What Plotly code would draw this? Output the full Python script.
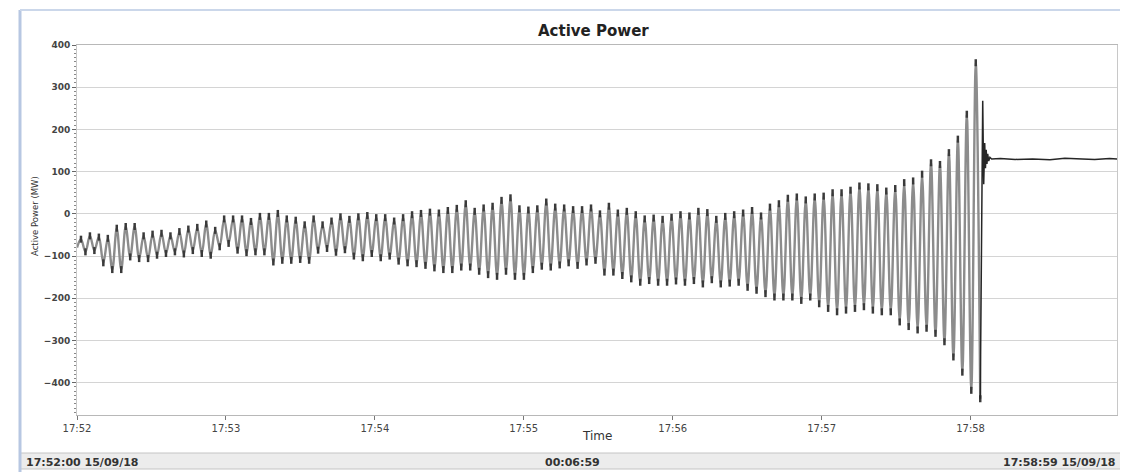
import plotly.graph_objects as go
from datetime import datetime, timedelta

# ---------------- data ----------------
BASE_TIME = "2018-09-15 17:52:00"
END_TIME = "2018-09-15 17:58:59"
TICK_TIMES = ["2018-09-15 17:52:00", "2018-09-15 17:53:00", "2018-09-15 17:54:00",
              "2018-09-15 17:55:00", "2018-09-15 17:56:00", "2018-09-15 17:57:00",
              "2018-09-15 17:58:00"]
TICK_LABELS = ["17:52", "17:53", "17:54", "17:55", "17:56", "17:57", "17:58"]
Y_TICKS = [-400, -300, -200, -100, 0, 100, 200, 300, 400]

START_VALUE = -80          # MW at 17:52:00
FIRST_PEAK_S = 1.6         # seconds after start of first peak
PERIOD_S = 3.605           # oscillation period (s)

# oscillation maxima (MW), one per cycle
PEAKS = [
    -60, -52, -55, -58, -34, -30, -30, -52, -48, -46, -52, -42, -36, -32,
    -24, -39, -12, -12, -12, -18, -6, -6, 1, -12, -15, -26, -12, -26,
    -17, -7, -13, -7, -4, -9, -9, -17, -9, -2, 1, 4, 2, 8,
    13, 24, 6, 14, 18, 32, 38, 12, 9, 12, 28, 16, 14,
    10, 10, 14, 0, 18, 2, 6, -2, -12, -10, -13, -8, -2, -5,
    6, 3, -13, -6, -2, 2, 8, -5, 16, 24, 37, 40, 33, 40,
    42, 50, 50, 56, 66, 64, 62, 54, 60, 74, 78, 94, 121, 117,
    145, 177, 236, 358,
]
# oscillation minima (MW), one per cycle
TROUGHS = [
    -90, -87, -116, -132, -132, -102, -106, -106, -98, -94, -90, -95, -87, -94,
    -98, -78, -70, -86, -92, -90, -90, -114, -110, -110, -108, -110, -86, -82,
    -91, -85, -100, -104, -94, -104, -100, -112, -116, -118, -122, -128, -132, -132,
    -126, -126, -136, -144, -148, -136, -148, -148, -132, -124, -126, -121, -116,
    -122, -114, -110, -138, -138, -146, -154, -162, -158, -162, -162, -159, -162, -158,
    -166, -156, -166, -164, -162, -174, -181, -189, -197, -197, -197, -205, -197, -213,
    -224, -232, -228, -224, -220, -228, -232, -232, -256, -267, -275, -271, -283, -303,
    -339, -375, -418, -438,
]
# post-trip transient and steady state (seconds after start, MW)
TAIL_S = [364.9, 365.3, 365.7, 366.0, 366.3, 366.6, 366.9, 367.3, 367.8, 368.5,
          372, 378, 385, 392, 398, 405, 410, 416, 419]
TAIL_VALUES = [268, 70, 168, 108, 152, 118, 142, 125, 134, 130,
               131, 129, 130, 128, 132, 130, 129, 131, 130]

# ---------------- build ----------------
t0 = datetime.strptime(BASE_TIME, "%Y-%m-%d %H:%M:%S")
osc_t = [t0]
osc_v = [START_VALUE]
ext_t, ext_v = [], []
for i, (p, q) in enumerate(zip(PEAKS, TROUGHS)):
    tp = t0 + timedelta(seconds=FIRST_PEAK_S + i * PERIOD_S)
    tq = t0 + timedelta(seconds=FIRST_PEAK_S + i * PERIOD_S + PERIOD_S / 2)
    osc_t += [tp, tq]
    osc_v += [p, q]
    ext_t += [tp, tq]
    ext_v += [p, q]

tail_t = [osc_t[-1]] + [t0 + timedelta(seconds=s) for s in TAIL_S]
tail_v = [osc_v[-1]] + TAIL_VALUES

fig = go.Figure()
fig.add_trace(go.Scatter(x=osc_t, y=osc_v, mode="lines",
                         line=dict(color="#8c8c8c", width=2.4, shape="spline", smoothing=1.0),
                         hoverinfo="skip"))
fig.add_trace(go.Scatter(x=ext_t, y=ext_v, mode="markers",
                         marker=dict(symbol="line-ns-open", size=5, color="#3a3a3a",
                                     line=dict(color="#3a3a3a", width=2.5)),
                         hoverinfo="skip"))
fig.add_trace(go.Scatter(x=tail_t, y=tail_v, mode="lines",
                         line=dict(color="#262626", width=1.5), hoverinfo="skip"))

FONT = "DejaVu Sans"
OFF = 8                      # browser body margin
W, H = 1128 - OFF, 472 - OFF
# plot area in page pixels: x 77..1117, y 45..415
L, T = 77 - OFF, 45 - OFF
R = W - (1117 - OFF)
B = H - (415 - OFF)
PW, PH = W - L - R, H - T - B


def px(X):
    return (X - 77) / PW


def py(Y):
    return (415 - Y) / PH


fig.update_layout(
    width=W, height=H,
    margin=dict(l=L, r=R, t=T, b=B),
    paper_bgcolor="white", plot_bgcolor="white",
    showlegend=False,
    font=dict(family=FONT, color="#333"),
)
fig.update_xaxes(
    type="date", range=[BASE_TIME, END_TIME],
    tickvals=TICK_TIMES, ticktext=TICK_LABELS,
    tickfont=dict(size=10, color="#444", family=FONT),
    ticks="outside", ticklen=4, tickcolor="#777",
    showgrid=False, zeroline=False,
    showline=True, linecolor="#b8b8b8", linewidth=1, mirror=True,
)
fig.update_yaxes(
    range=[-476.5, 400],
    tickvals=Y_TICKS,
    tickfont=dict(size=9, color="#444", family=FONT, weight="bold"),
    ticks="outside", ticklen=4, tickcolor="#666",
    minor=dict(dtick=10, ticklen=2, ticks="outside", tickcolor="#888", showgrid=False),
    showgrid=True, gridcolor="#d4d4d4", gridwidth=1, zeroline=False,
    showline=True, linecolor="#c8c8c8", linewidth=1, mirror=True,
)

shapes = [
    # status bar
    dict(type="rect", xref="paper", yref="paper", x0=px(20), x1=px(1128),
         y0=py(453), y1=py(469), fillcolor="#ececec",
         line=dict(color="#c4c4c4", width=1), layer="below"),
    # panel borders
    dict(type="line", xref="paper", yref="paper", x0=px(20), x1=px(20),
         y0=py(10), y1=py(472), line=dict(color="#b7c7e2", width=3)),
    dict(type="line", xref="paper", yref="paper", x0=px(20), x1=px(1128),
         y0=py(10), y1=py(10), line=dict(color="#cbd7ea", width=2)),
]
fig.update_layout(shapes=shapes)

ann = [
    dict(text="<b>Active Power</b>", x=px(593), y=py(31), xref="paper", yref="paper",
         showarrow=False, font=dict(size=15, color="#222", family=FONT),
         xanchor="center", yanchor="middle"),
    dict(text="Active Power (MW)", x=px(35), y=py(216), xref="paper", yref="paper",
         showarrow=False, textangle=-90, font=dict(size=8.5, color="#333", family=FONT),
         xanchor="center", yanchor="middle"),
    dict(text="Time", x=px(597), y=py(436), xref="paper", yref="paper",
         showarrow=False, font=dict(size=12, color="#333", family=FONT),
         xanchor="center", yanchor="middle"),
    dict(text="<b>17:52:00 15/09/18</b>", x=px(24), y=py(462), xref="paper", yref="paper",
         showarrow=False, font=dict(size=11, color="#333", family=FONT),
         xanchor="left", yanchor="middle"),
    dict(text="<b>00:06:59</b>", x=px(572), y=py(462), xref="paper", yref="paper",
         showarrow=False, font=dict(size=11, color="#333", family=FONT),
         xanchor="center", yanchor="middle"),
    dict(text="<b>17:58:59 15/09/18</b>", x=px(1118), y=py(462), xref="paper", yref="paper",
         showarrow=False, font=dict(size=11, color="#333", family=FONT),
         xanchor="right", yanchor="middle"),
]
fig.update_layout(annotations=ann)

fig.write_html("out.html")
